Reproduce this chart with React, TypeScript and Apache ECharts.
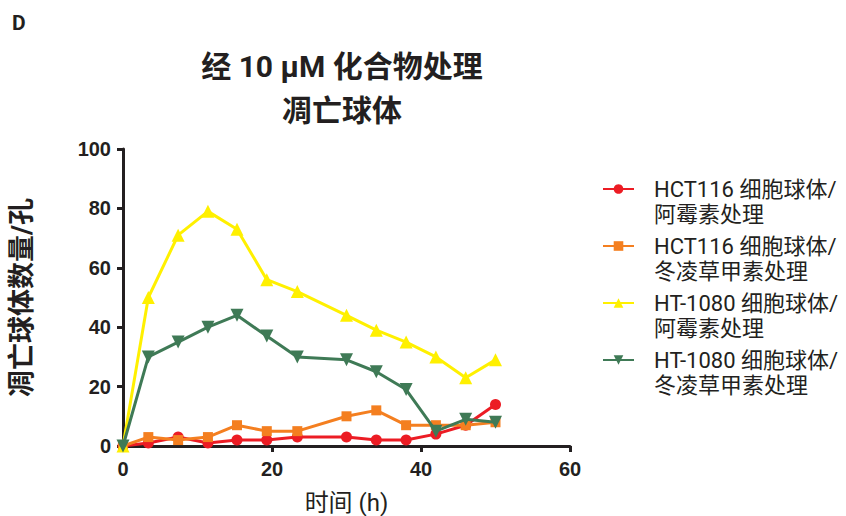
import React, { useEffect, useRef } from "react";
import * as echarts from "echarts";

const times = [0, 3.4, 7.4, 11.4, 15.3, 19.3, 23.4, 30, 34, 38, 42, 46, 50];
const hctDox = [0, 1, 3, 1, 2, 2, 3, 3, 2, 2, 4, 7, 14];
const hctOua = [0, 3, 2, 3, 7, 5, 5, 10, 12, 7, 7, 7, 8];
const htDox = [0, 50, 71, 79, 73, 56, 52, 44, 39, 35, 30, 23, 29];
const htOua = [0, 30, 35, 40, 44, 37, 30, 29, 25, 19, 5, 9, 8];
const seriesNames = [
  "HCT116 细胞球体/\n阿霉素处理",
  "HCT116 细胞球体/\n冬凌草甲素处理",
  "HT-1080 细胞球体/\n阿霉素处理",
  "HT-1080 细胞球体/\n冬凌草甲素处理",
];
const seriesData = [hctDox, hctOua, htDox, htOua];
const colors = ["#ec1c24", "#f47f20", "#fff000", "#3f7a56"];
const symbols = ["circle", "rect", "triangle", "triangle"];
const rotations = [0, 0, 0, 180];
const symbolSizes = [11, 10, 13, 13];
const xTicks = [0, 20, 40, 60];
const yTicks = [0, 20, 40, 60, 80, 100];

const FONT = "Roboto, 'Noto Sans CJK SC', sans-serif";
const NUMFONT = "'Liberation Sans', Arial, sans-serif";
const INK = "#231f20";

export default function App() {
  const ref = useRef<HTMLDivElement>(null);
  useEffect(() => {
    if (!ref.current) return;
    const chart = echarts.init(ref.current, null, { renderer: "svg" });
    const legendLH = 25;
    const legends = seriesNames.map((n, i) => ({
      orient: "vertical",
      left: 602,
      top: 189 + i * 57 - legendLH * 1.5,
      padding: 0,
      data: [n],
      itemWidth: 31,
      itemHeight: 12,
      selectedMode: false,
      formatter: (name: string) => " \n" + name,
      textStyle: {
        fontFamily: FONT,
        fontSize: 22,
        lineHeight: legendLH,
        color: INK,
        padding: [0, 0, 0, 15],
      },
    }));
    chart.setOption({
      animation: false,
      title: [
        {
          text: "经 10 μM 化合物处理\n凋亡球体",
          left: 342,
          top: 44,
          padding: 0,
          textAlign: "center",
          textStyle: {
            fontFamily: FONT,
            fontSize: 30,
            fontWeight: "bold",
            lineHeight: 44,
            color: INK,
          },
        },
        {
          text: "D",
          left: 12,
          top: 12,
          padding: 0,
          textStyle: { fontFamily: FONT, fontSize: 21, fontWeight: "bold", color: INK },
        },
      ],
      legend: legends,
      grid: {
        left: 123,
        right: 276,
        top: 149,
        bottom: 70,
        containLabel: false,
        outerBoundsMode: "none",
      },
      xAxis: {
        type: "value",
        min: 0,
        max: 60,
        interval: 20,
        name: "时间 (h)",
        nameLocation: "middle",
        nameGap: 45,
        nameTextStyle: { fontFamily: FONT, fontSize: 24, color: INK },
        axisLine: { lineStyle: { color: INK, width: 3 } },
        axisTick: { show: true, length: 6, lineStyle: { color: INK, width: 3 } },
        axisLabel: {
          fontFamily: NUMFONT,
          fontSize: 20,
          fontWeight: "bold",
          color: INK,
          margin: 13,
          customValues: xTicks,
        },
        splitLine: { show: false },
      },
      yAxis: {
        type: "value",
        min: 0,
        max: 100,
        interval: 20,
        name: "凋亡球体数量/孔",
        nameLocation: "middle",
        nameGap: 88,
        nameTextStyle: { fontFamily: FONT, fontSize: 27, fontWeight: "bold", color: INK },
        axisLine: { show: true, lineStyle: { color: INK, width: 3 } },
        axisTick: { show: true, length: 6, lineStyle: { color: INK, width: 3 } },
        axisLabel: {
          fontFamily: NUMFONT,
          fontSize: 20,
          fontWeight: "bold",
          color: INK,
          margin: 12,
          customValues: yTicks,
        },
        splitLine: { show: false },
      },
      series: seriesData.map((d, i) => ({
        name: seriesNames[i],
        type: "line",
        data: d.map((v, j) => [times[j], v]),
        symbol: symbols[i],
        symbolSize: symbolSizes[i],
        symbolRotate: rotations[i],
        showAllSymbol: true,
        clip: false,
        lineStyle: { color: colors[i], width: 3 },
        itemStyle: { color: colors[i] },
        z: 2 + i,
      })),
    });
    return () => chart.dispose();
  }, []);
  return (
    <div
      ref={ref}
      style={{ position: "absolute", left: 0, top: 0, width: 846, height: 516 }}
    />
  );
}
